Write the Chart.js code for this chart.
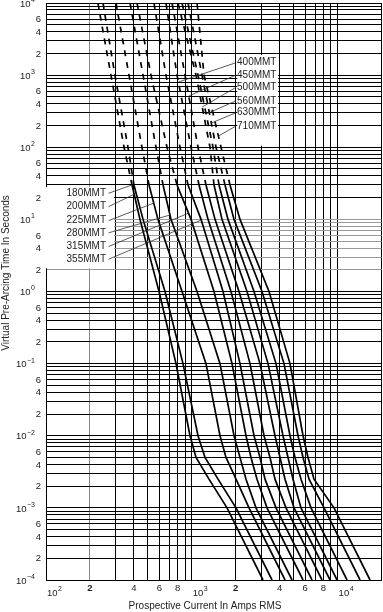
<!DOCTYPE html>
<html><head><meta charset="utf-8">
<script src="https://cdn.jsdelivr.net/npm/chart.js@4/dist/chart.umd.min.js"></script>
<style>html,body{margin:0;padding:0;background:#fff;}canvas{display:block;}</style>
</head><body>
<canvas id="c" width="383" height="612"></canvas>
<script>
// ---- data (seconds / amps) ----
const TIMES = [10000, 1000, 100, 30, 10, 1, 0.1, 0.01, 0.005, 0.0025, 0.001, 0.0001];
const FUSE_NAMES = ['180MMT','200MMT','225MMT','280MMT','315MMT','355MMT','400MMT','450MMT','500MMT','560MMT','630MMT','710MMT'];
const I_180 = [227, 279, 343, 389, 441, 596, 779, 972, 1069, 1312, 1744, 3079];
const I_200 = [246, 297, 365, 401, 463, 655, 870, 1103, 1232, 1513, 2010, 3549];
const I_225 = [302, 371, 455, 509, 586, 857, 1251, 1561, 1716, 2010, 2468, 4358];
const I_280 = [377, 463, 568, 635, 720, 1086, 1561, 1948, 2141, 2354, 2756, 4867];
const I_315 = [421, 525, 676, 792, 988, 1420, 1887, 2354, 2547, 2800, 3280, 5792];
const I_355 = [550, 665, 830, 942, 1157, 1637, 2141, 2671, 2936, 3178, 3781, 6676];
const I_400 = [665, 792, 988, 1121, 1292, 1857, 2507, 3128, 3439, 3721, 4427, 7818];
const I_450 = [732, 898, 1103, 1251, 1443, 2107, 2936, 3721, 4027, 4358, 5024, 8872];
const I_500 = [804, 1069, 1333, 1420, 1611, 2391, 3332, 4222, 4570, 4945, 5611, 9907];
const I_560 = [857, 1103, 1398, 1537, 1771, 2671, 3781, 4715, 5104, 5611, 6572, 11600];
const I_630 = [942, 1175, 1466, 1689, 1948, 3030, 4289, 5352, 5792, 6368, 8069, 14250];
const I_710 = [1086, 1213, 1586, 1828, 2141, 3385, 4715, 5792, 6268, 6889, 9449, 16680];
const CURRENTS = [I_180, I_200, I_225, I_280, I_315, I_355, I_400, I_450, I_500, I_560, I_630, I_710];
const DASHED_ABOVE_S = 30;

// axis ranges and tick labels
const X_MIN = 100, X_MAX = 20000, Y_MIN = 0.0001, Y_MAX = 10000;
const X_DECADE_EXP = [2, 3, 4];
const X_MINOR_MULT = [2, 4, 6, 8];
const Y_DECADE_EXP = [-4, -3, -2, -1, 0, 1, 2, 3, 4];
const Y_MINOR_MULT = [2, 4, 6];
const X_TITLE = 'Prospective Current In Amps RMS';
const Y_TITLE = 'Virtual Pre-Arcing Time In Seconds';

// label annotations: left group (first six) and right group (last six)
const LEFT_LABEL_T = [23, 15, 9.6, 6.5, 4.2, 2.8];
const LEFT_LEADER_T = [30, 23, 16.8, 11.5, 12.2, 9.8];
const RIGHT_LABEL_T = [1486, 1003, 677, 441, 301, 197];
const RIGHT_LEADER_T = [802, 513, 361, 289, 217, 143];

function gridValues(min, max) {
  const out = [];
  for (let e = -6; e <= 6; e++) for (let m = 1; m <= 9; m++) {
    const v = parseFloat((m * Math.pow(10, e)).toPrecision(6));
    if (v >= min * 0.999 && v <= max * 1.001) out.push(v);
  }
  return out;
}
const X_GRID = gridValues(X_MIN, X_MAX);
const Y_GRID = gridValues(Y_MIN, Y_MAX);

const FONT = '"Liberation Sans", Arial, Helvetica, sans-serif';
const TXT = '#222';

function curvePixelAt(chart, i, t) {
  const d = CURRENTS[i];
  const lt = Math.log10(t);
  for (let k = 0; k < TIMES.length - 1; k++) {
    const a = Math.log10(TIMES[k]), b = Math.log10(TIMES[k + 1]);
    if (lt <= a && lt >= b) {
      const f = (a - lt) / (a - b);
      const li = Math.log10(d[k]) + f * (Math.log10(d[k + 1]) - Math.log10(d[k]));
      return [chart.scales.x.getPixelForValue(Math.pow(10, li)), chart.scales.y.getPixelForValue(t)];
    }
  }
  return null;
}

function drawPow(ctx, x, yc, exp, align, big, small) {
  const base = '10', sup = String(exp).replace('-', '\u2212');
  ctx.font = big + 'px ' + FONT;
  const wb = ctx.measureText(base).width;
  ctx.font = small + 'px ' + FONT;
  const ws = ctx.measureText(sup).width;
  let x0 = align === 'right' ? x - wb - ws - 0.5 : x;
  ctx.textAlign = 'left';
  ctx.textBaseline = 'middle';
  ctx.font = big + 'px ' + FONT;
  ctx.fillText(base, x0, yc + 1);
  ctx.font = small + 'px ' + FONT;
  ctx.fillText(sup, x0 + wb + 0.5, yc - 3);
}

const annot = {
  id: 'annot',
  beforeDatasetsDraw(chart) {
    const {ctx, scales: {x, y}} = chart;
    ctx.save();
    ctx.fillStyle = '#fff';
    let x0 = x.getPixelForValue(100) - 2, x1 = x.getPixelForValue(300) - 1.5;
    let y0 = y.getPixelForValue(28), y1 = y.getPixelForValue(2.1);
    ctx.fillRect(x0, y0, x1 - x0, y1 - y0);
    x0 = x.getPixelForValue(2000) + 1.5; x1 = x.getPixelForValue(4000) - 1.5;
    y0 = y.getPixelForValue(1900); y1 = y.getPixelForValue(105);
    ctx.fillRect(x0, y0, x1 - x0, y1 - y0);
    ctx.restore();
  },
  afterDatasetsDraw(chart) {
    const {ctx, scales: {x, y}} = chart;
    ctx.save();
    ctx.fillStyle = TXT;
    ctx.strokeStyle = '#333';
    ctx.lineWidth = 0.8;
    ctx.font = '10px ' + FONT;
    ctx.textBaseline = 'middle';
    const lx = x.getPixelForValue(258);
    for (let i = 0; i < 6; i++) {
      const ly = y.getPixelForValue(LEFT_LABEL_T[i]);
      ctx.textAlign = 'right';
      ctx.fillText(FUSE_NAMES[i], lx, ly);
      const p = curvePixelAt(chart, i, LEFT_LEADER_T[i]);
      if (p) { ctx.beginPath(); ctx.moveTo(lx + 2.5, ly); ctx.lineTo(p[0], p[1]); ctx.stroke(); }
    }
    const rx = x.getPixelForValue(2042);
    for (let j = 0; j < 6; j++) {
      const i = j + 6;
      const ry = y.getPixelForValue(RIGHT_LABEL_T[j]);
      ctx.textAlign = 'left';
      ctx.fillText(FUSE_NAMES[i], rx, ry);
      const p = curvePixelAt(chart, i, RIGHT_LEADER_T[j]);
      if (p) { ctx.beginPath(); ctx.moveTo(rx - 1, ry); ctx.lineTo(p[0], p[1]); ctx.stroke(); }
    }
    ctx.restore();
  },
  afterDraw(chart) {
    const {ctx, scales: {x, y}, chartArea} = chart;
    ctx.save();
    ctx.fillStyle = TXT;
    for (const e of Y_DECADE_EXP) drawPow(ctx, 35, y.getPixelForValue(Math.pow(10, e)), e, 'right', 9.5, 7);
    ctx.font = '9.5px ' + FONT;
    ctx.textAlign = 'right';
    ctx.textBaseline = 'middle';
    for (let e = -4; e < 4; e++) for (const m of Y_MINOR_MULT) ctx.fillText(String(m), 41, y.getPixelForValue(m * Math.pow(10, e)) + 0.5);
    for (const e of X_DECADE_EXP) drawPow(ctx, x.getPixelForValue(Math.pow(10, e)) + 1, chartArea.bottom + 12, e, 'left', 9.5, 7);
    ctx.textAlign = 'center';
    ctx.textBaseline = 'middle';
    for (let e = 2; e < 4; e++) for (const m of X_MINOR_MULT) {
      ctx.font = (m === 2 ? 'bold ' : '') + '9.5px ' + FONT;
      ctx.fillText(String(m), x.getPixelForValue(m * Math.pow(10, e)), chartArea.bottom + 8);
    }
    ctx.font = '10px ' + FONT;
    ctx.textAlign = 'center';
    ctx.textBaseline = 'middle';
    ctx.fillText(X_TITLE, 205, chartArea.bottom + 26);
    ctx.translate(6, 273);
    ctx.rotate(-Math.PI / 2);
    ctx.fillText(Y_TITLE, 0, 0);
    ctx.restore();
  }
};

const datasets = FUSE_NAMES.map((name, i) => ({
  label: name,
  data: TIMES.map((t, k) => ({x: CURRENTS[i][k], y: t})),
  borderColor: '#000',
  borderWidth: 1.7,
  pointRadius: 0,
  fill: false,
  tension: 0,
  segment: { borderDash: c => (c.p1.parsed.y >= DASHED_ABOVE_S * 0.999 ? [6, 6] : undefined) }
}));

function gridColorX(c) {
  const v = c.tick ? c.tick.value : 0;
  return Math.abs(v - 200) < 1 ? '#888' : '#000';
}
function gridColorY(c) {
  const v = c.tick ? c.tick.value : 0;
  return (v >= 1.99 && v <= 10.01) ? '#999' : '#000';
}

new Chart(document.getElementById('c'), {
  type: 'line',
  data: { datasets },
  options: {
    responsive: false,
    animation: false,
    events: [],
    layout: { padding: { left: 46, top: 3, right: 1.5, bottom: 32 } },
    plugins: { legend: { display: false }, tooltip: { enabled: false } },
    scales: {
      x: {
        type: 'logarithmic', min: X_MIN, max: X_MAX,
        afterBuildTicks: s => { s.ticks = X_GRID.map(v => ({value: v})); },
        ticks: { display: false },
        grid: { color: gridColorX, lineWidth: 1, drawTicks: false },
        border: { display: true, color: '#000', width: 1 }
      },
      y: {
        type: 'logarithmic', min: Y_MIN, max: Y_MAX,
        afterBuildTicks: s => { s.ticks = Y_GRID.map(v => ({value: v})); },
        ticks: { display: false },
        grid: { color: gridColorY, lineWidth: 1, drawTicks: false },
        border: { display: true, color: '#000', width: 1 }
      }
    }
  },
  plugins: [annot]
});
</script>
</body></html>
